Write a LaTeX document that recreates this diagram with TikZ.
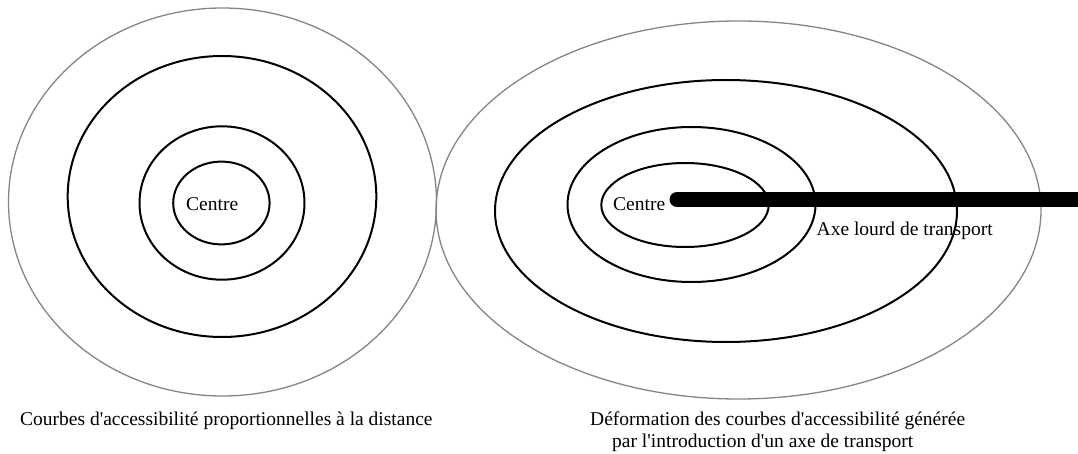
\documentclass[tikz,border=0pt]{standalone}
\usepackage{fontspec}
\newfontfamily\plainserif{Liberation Serif}
\usetikzlibrary{positioning}
\tikzstyle{outercurve} = [draw=black!48, line width=1.3pt]
\tikzstyle{curve} = [draw=black, line width=2pt]
\tikzstyle{txt} = [inner sep=0pt, font=\plainserif\fontsize{19.5}{23}\selectfont]
\tikzstyle{axis} = [line width=15pt, line cap=round]

\begin{document}
\begin{tikzpicture}[x=1pt, y=-1pt]
    \useasboundingbox (0,0) rectangle (1078,454);

    % proportional curves
    \draw [outercurve] (222.5,202) ellipse [x radius=214pt, y radius=194pt];
    \draw [curve] (222,196.5) ellipse [x radius=154.3pt, y radius=140.5pt];
    \draw [curve] (222,203) ellipse [x radius=82.5pt, y radius=76.7pt];
    \draw [curve] (221.4,203) ellipse [x radius=48.2pt, y radius=41.4pt];
    \node (centreA) [txt, anchor=base west] at (186,211) {Centre};

    % deformed curves
    \draw [outercurve] (738.5,210) ellipse [x radius=302.5pt, y radius=189pt];
    \draw [curve] (726,211) ellipse [x radius=231pt, y radius=131pt];
    \draw [curve] (691.5,204.5) ellipse [x radius=124pt, y radius=77.5pt];
    \draw [curve] (685,205) ellipse [x radius=83.7pt, y radius=42pt];
    \node (centreB) [txt, anchor=base west] at (613,211) {Centre};

    \coordinate (axisstart) at (677,199.5);
    \coordinate (axisend) at (1090,199.5);
    \draw [axis] (axisstart) -- (axisend);
    \node (axelabel) [txt, anchor=base west] at (816.5,236) {Axe lourd de transport};

    % captions
    \node (captionA) [txt, anchor=base west] at (20,425) {Courbes d'accessibilité proportionnelles à la distance};
    \node (captionB) [txt, anchor=base west] at (590,425) {Déformation des courbes d'accessibilité générée};
    \node (captionBb) [txt, anchor=base west] at (612,447) {par l'introduction d'un axe de transport};
\end{tikzpicture}
\end{document}
